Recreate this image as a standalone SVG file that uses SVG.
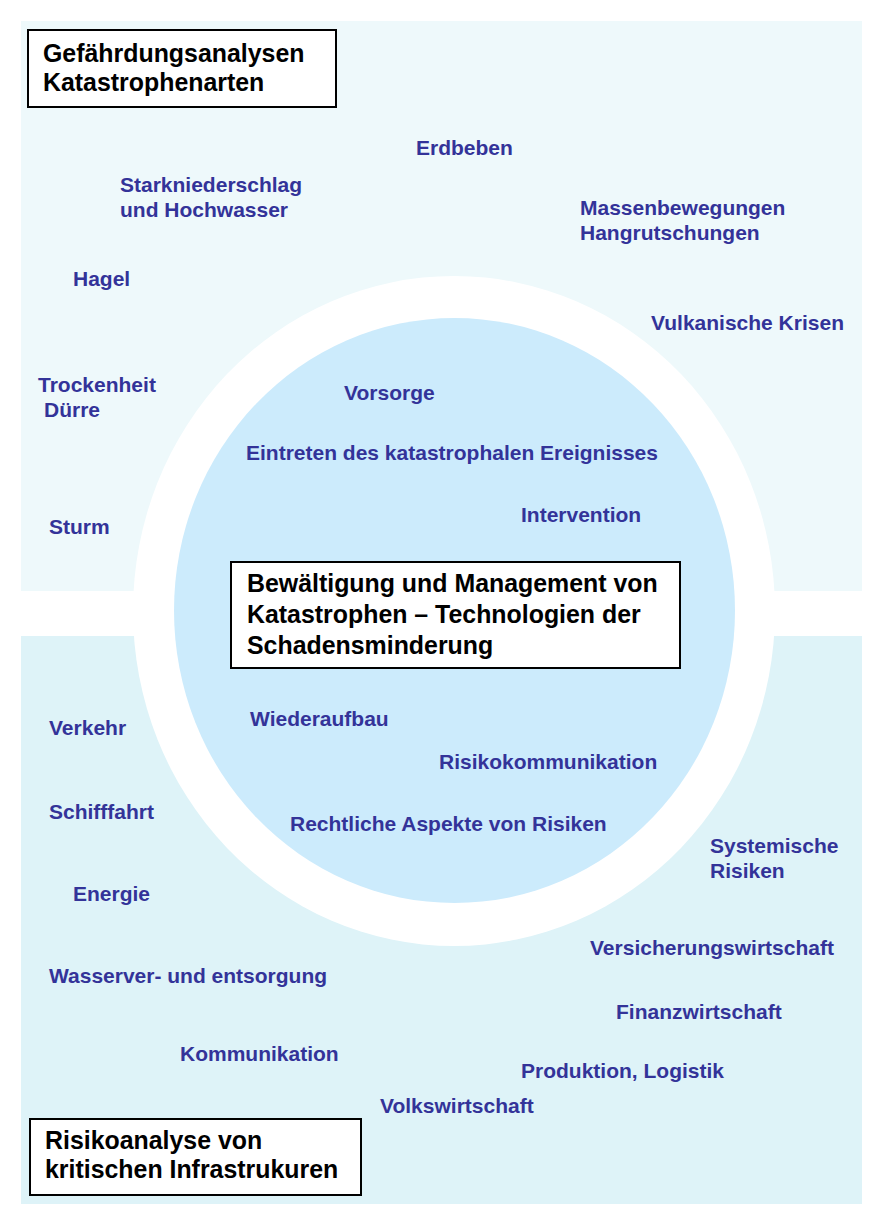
<svg xmlns="http://www.w3.org/2000/svg" width="883" height="1226" viewBox="0 0 883 1226">
<style>
.lbl{font-family:"Liberation Sans",Arial,sans-serif;font-weight:bold;font-size:21px;fill:#333399}
.ttl{font-family:"Liberation Sans",Arial,sans-serif;font-weight:bold;font-size:24.9px;fill:#000}
.box{fill:#fff;stroke:#000;stroke-width:2}
</style>
<rect width="883" height="1226" fill="#fff"/>
<g id="panels">
<rect x="21" y="21" width="841" height="570" fill="#EEF9FB"/>
<rect x="21" y="636" width="841" height="568" fill="#DEF3F8"/>
<ellipse cx="454" cy="611" rx="321" ry="335" fill="#fff"/>
<ellipse cx="454.5" cy="610.5" rx="280.5" ry="292.5" fill="#CCEBFC"/>
</g>
<g id="connectors"></g>
<g id="box-top"><rect class="box" x="28" y="30" width="308" height="77"/>
<text class="ttl" x="43" y="62">Gefährdungsanalysen</text><text class="ttl" x="43" y="91">Katastrophenarten</text></g>
<g id="box-center"><rect class="box" x="231" y="562" width="449" height="106"/>
<text class="ttl" x="247" y="592">Bewältigung und Management von</text><text class="ttl" x="247" y="623">Katastrophen – Technologien der</text><text class="ttl" x="247" y="654">Schadensminderung</text></g>
<g id="box-bottom"><rect class="box" x="30" y="1119" width="331" height="76"/>
<text class="ttl" x="45" y="1149">Risikoanalyse von</text><text class="ttl" x="45" y="1178">kritischen Infrastrukuren</text></g>
<g id="labels">
<text class="lbl" x="416" y="155">Erdbeben</text>
<text class="lbl" x="120" y="192">Starkniederschlag</text>
<text class="lbl" x="120" y="217">und Hochwasser</text>
<text class="lbl" x="580" y="215">Massenbewegungen</text>
<text class="lbl" x="580" y="240">Hangrutschungen</text>
<text class="lbl" x="73" y="286">Hagel</text>
<text class="lbl" x="651" y="330">Vulkanische Krisen</text>
<text class="lbl" x="38" y="392">Trockenheit</text>
<text class="lbl" x="44" y="417">Dürre</text>
<text class="lbl" x="344" y="400">Vorsorge</text>
<text class="lbl" x="246" y="460">Eintreten des katastrophalen Ereignisses</text>
<text class="lbl" x="521" y="522">Intervention</text>
<text class="lbl" x="49" y="534">Sturm</text>
<text class="lbl" x="250" y="726">Wiederaufbau</text>
<text class="lbl" x="49" y="735">Verkehr</text>
<text class="lbl" x="439" y="769">Risikokommunikation</text>
<text class="lbl" x="49" y="819">Schifffahrt</text>
<text class="lbl" x="290" y="831">Rechtliche Aspekte von Risiken</text>
<text class="lbl" x="710" y="853">Systemische</text>
<text class="lbl" x="710" y="878">Risiken</text>
<text class="lbl" x="73" y="901">Energie</text>
<text class="lbl" x="590" y="955">Versicherungswirtschaft</text>
<text class="lbl" x="49" y="983">Wasserver- und entsorgung</text>
<text class="lbl" x="616" y="1019">Finanzwirtschaft</text>
<text class="lbl" x="180" y="1061">Kommunikation</text>
<text class="lbl" x="521" y="1078">Produktion, Logistik</text>
<text class="lbl" x="380" y="1113">Volkswirtschaft</text>
</g>
</svg>
